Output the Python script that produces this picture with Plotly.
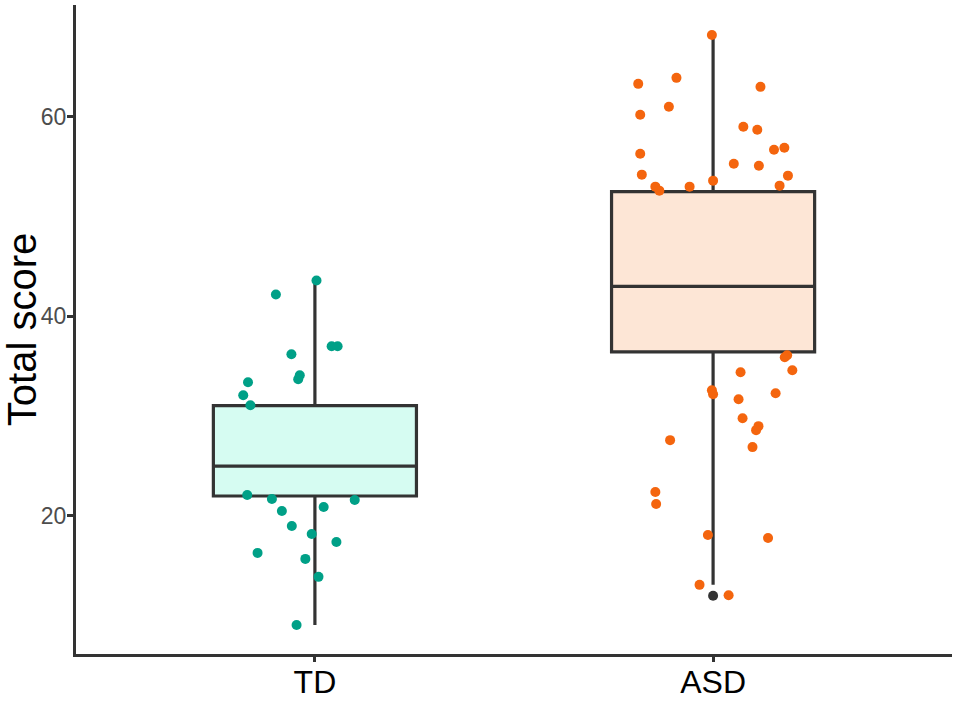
import plotly.graph_objects as go

groups = ["TD", "ASD"]
group_pos = [1, 2]

# box statistics
q1 = [22.0, 36.45]
median = [25.0, 43.0]
q3 = [31.05, 52.5]
lower_fence = [9.07, 13.1]
upper_fence = [43.6, 68.2]
outlier_vals = [12.0]  # ASD

# jittered observations: offset from group centre, value
td_jitter = [0.004, -0.098, 0.042, 0.057, -0.059, -0.038, -0.042, -0.168, -0.18, -0.162,
             -0.17, -0.108, 0.1, -0.083, 0.022, -0.058, -0.008, 0.054, -0.144, -0.024,
             0.009, -0.046]
td_score = [43.6, 42.2, 37.0, 37.0, 36.2, 34.1, 33.7, 33.4, 32.1, 31.1,
            22.1, 21.7, 21.6, 20.5, 20.9, 19.0, 18.2, 17.4, 16.3, 15.7,
            13.9, 9.07]

asd_jitter = [-0.003, -0.188, -0.092, 0.119, -0.183, -0.111, 0.076, 0.111, -0.183, 0.153,
              0.179, 0.052, 0.115, -0.179, 0.188, -0.145, -0.135, -0.059, 0.0, 0.167,
              0.186, 0.18, 0.199, 0.069, -0.003, 0.0, 0.157, 0.064, 0.074, 0.114,
              0.108, -0.108, 0.099, -0.145, -0.143, -0.013, 0.138, -0.034, 0.039]
asd_score = [68.2, 63.3, 63.9, 63.0, 60.2, 61.0, 59.0, 58.7, 56.3, 56.7,
             56.9, 55.3, 55.1, 54.2, 54.1, 53.0, 52.6, 53.0, 53.6, 53.1,
             36.1, 35.9, 34.6, 34.4, 32.6, 32.2, 32.3, 31.7, 29.8, 29.0,
             28.6, 27.6, 26.9, 22.4, 21.2, 18.1, 17.8, 13.1, 12.05]

point_colors = ["#00A087", "#F4650E"]
box_fills = ["#D6FCF2", "#FDE6D6"]
line_col = "#333333"

fig = go.Figure()

fig.add_trace(go.Scatter(
    x=[group_pos[0] + j for j in td_jitter], y=td_score,
    mode="markers", marker=dict(color=point_colors[0], size=10),
    showlegend=False, hoverinfo="skip"
))
fig.add_trace(go.Scatter(
    x=[group_pos[1] + j for j in asd_jitter], y=asd_score,
    mode="markers", marker=dict(color=point_colors[1], size=10),
    showlegend=False, hoverinfo="skip"
))

for i in range(2):
    fig.add_trace(go.Box(
        x=[group_pos[i]], q1=[q1[i]], median=[median[i]], q3=[q3[i]],
        lowerfence=[lower_fence[i]], upperfence=[upper_fence[i]],
        width=0.51, whiskerwidth=0, boxpoints=False,
        fillcolor=box_fills[i], line=dict(color=line_col, width=3.2),
        showlegend=False, hoverinfo="skip"
    ))

fig.add_trace(go.Scatter(
    x=[group_pos[1]] * len(outlier_vals), y=outlier_vals,
    mode="markers", marker=dict(color=line_col, size=10),
    showlegend=False, hoverinfo="skip"
))

fig.update_layout(
    width=960, height=701,
    margin=dict(l=76, r=8, t=5, b=47),
    plot_bgcolor="white", paper_bgcolor="white",
    font=dict(family="Liberation Sans, Arial, sans-serif"),
)
fig.update_xaxes(
    range=[0.4, 2.6], tickvals=group_pos, ticktext=groups,
    showline=True, linecolor=line_col, linewidth=3,
    ticks="outside", ticklen=5, tickwidth=2.5, tickcolor=line_col,
    tickfont=dict(size=32, color="black"), ticklabelstandoff=-7,
    showgrid=False, zeroline=False, automargin=False,
)
fig.update_yaxes(
    range=[6.17, 71.2], tickvals=[20, 40, 60],
    showline=True, linecolor=line_col, linewidth=3,
    ticks="outside", ticklen=6, tickwidth=2.5, tickcolor=line_col,
    tickfont=dict(size=23, color="#4D4D4D"), ticklabelstandoff=-4,
    title=dict(text="Total score", font=dict(size=40, color="black")),
    showgrid=False, zeroline=False, automargin=False,
)

fig.write_html("out.html", config={"displayModeBar": False},
               post_script="document.body.style.margin='0';")
